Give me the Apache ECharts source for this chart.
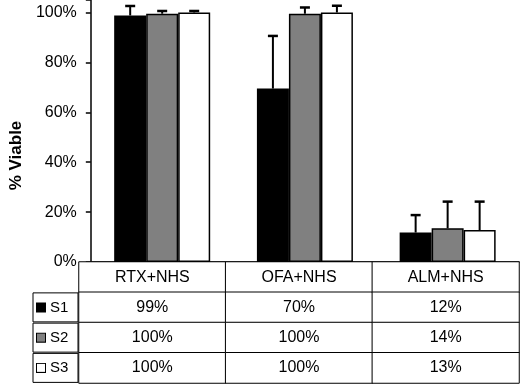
<!DOCTYPE html>
<html>
<head>
<meta charset="utf-8">
<script src="https://cdn.jsdelivr.net/npm/echarts@6/dist/echarts.min.js"></script>
<style>
  html, body { margin: 0; padding: 0; background: #fff; }
  #chart { width: 520px; height: 384px; }
</style>
</head>
<body>
<div id="chart"></div>
<script>
const categories = ["RTX+NHS", "OFA+NHS", "ALM+NHS"];
const seriesNames = ["S1", "S2", "S3"];
const s1Values = [98.8, 69.5, 11.8];
const s2Values = [99.5, 99.5, 13.5];
const s3Values = [100, 100, 12.8];
const s1Errors = [3.8, 21.1, 7];
const s2Errors = [1.1, 2.5, 10.7];
const s3Errors = [0.6, 2.7, 11.4];
const yTicks = [0, 20, 40, 60, 80, 100];

const fills = ["#000000", "#808080", "#ffffff"];
const font = "'Liberation Sans', Arial, sans-serif";
const barWidth = 32;
const allValues = [s1Values, s2Values, s3Values];
const allErrors = [s1Errors, s2Errors, s3Errors];

const chart = echarts.init(document.getElementById("chart"));

// error bar (upper whisker only), shifted to sit on its own bar
function errorSeries(idx) {
  return {
    type: "custom",
    xAxisIndex: 0,
    yAxisIndex: 0,
    z: 5,
    silent: true,
    data: allValues[idx].map((v, i) => [i, v, allErrors[idx][i]]),
    renderItem: (params, api) => {
      const base = api.coord([api.value(0), api.value(1)]);
      const top = api.coord([api.value(0), api.value(1) + api.value(2)]);
      const x = base[0] + (idx - 1) * barWidth;
      return {
        type: "group",
        children: [
          { type: "line", shape: { x1: x, y1: base[1], x2: x, y2: top[1] }, style: { stroke: "#000", lineWidth: 2 } },
          { type: "line", shape: { x1: x - 5, y1: top[1], x2: x + 5, y2: top[1] }, style: { stroke: "#000", lineWidth: 2.5 } },
        ],
      };
    },
  };
}

// table cells: row 0 is the header, rows 1..3 are the series
const tableData = [];
categories.forEach((c, ci) => {
  tableData.push([ci, 0, ci]);
  allValues.forEach((vals, si) => tableData.push([ci, si + 1, vals[ci]]));
});

const markerRich = {};
fills.forEach((f, i) => {
  markerRich["m" + i] = { width: 8, height: 8, backgroundColor: f, borderColor: "#000", borderWidth: 1, verticalAlign: "middle" };
});
markerRich.t = { fontSize: 15, fontFamily: font, color: "#000", padding: [0, 0, 0, 5], lineHeight: 29, verticalAlign: "middle" };

const option = {
  animation: false,
  grid: [
    { left: 79, right: 1, top: 0, height: 262 },
    { left: 79, right: 1, top: 262, height: 121 },
  ],
  xAxis: [
    {
      type: "category",
      gridIndex: 0,
      data: categories,
      axisLine: { lineStyle: { color: "#000", width: 1.5 } },
      axisTick: { show: false },
      axisLabel: { show: false },
    },
    {
      type: "category",
      gridIndex: 1,
      data: categories,
      show: false,
    },
  ],
  yAxis: [
    {
      type: "value",
      gridIndex: 0,
      min: 0,
      max: 105,
      interval: 20,
      name: "% Viable",
      nameLocation: "middle",
      nameGap: 63,
      nameTextStyle: { fontSize: 17, fontWeight: "bold", fontFamily: font, color: "#000", padding: [0, 49, 0, 0] },
      axisLine: { show: true, lineStyle: { color: "#000", width: 1.5 } },
      axisTick: { show: true, length: 5, lineStyle: { color: "#000", width: 1.5 } },
      axisLabel: {
        margin: 14,
        fontSize: 16,
        fontFamily: font,
        color: "#000",
        formatter: (v) => (yTicks.includes(v) ? v + "%" : ""),
      },
      splitLine: { show: false },
    },
    {
      type: "category",
      gridIndex: 1,
      inverse: true,
      data: [""].concat(seriesNames),
      axisLine: { show: false },
      axisTick: { show: false },
      axisLabel: {
        align: "left",
        verticalAlign: "middle",
        margin: 46,
        width: 41,
        lineHeight: 29,
        padding: [0, 0, 0, 4],
        borderColor: "#000",
        borderWidth: 1,
        formatter: (v, i) => (v ? "{m" + (i - 1) + "|}{t|" + v + "}" : ""),
        rich: markerRich,
      },
    },
  ],
  series: [
    ...allValues.map((vals, i) => ({
      name: seriesNames[i],
      type: "bar",
      xAxisIndex: 0,
      yAxisIndex: 0,
      barWidth: barWidth,
      barGap: "0%",
      data: vals,
      itemStyle: { color: fills[i], borderColor: "#000", borderWidth: 1.5 },
      silent: true,
    })),
    ...allValues.map((v, i) => errorSeries(i)),
    {
      type: "heatmap",
      xAxisIndex: 1,
      yAxisIndex: 1,
      data: tableData,
      silent: true,
      itemStyle: { color: "#fff", borderColor: "#000", borderWidth: 1 },
      label: {
        show: true,
        fontSize: 16,
        fontFamily: font,
        color: "#000",
        formatter: (p) => (p.data[1] === 0 ? categories[p.data[0]] : Math.round(p.data[2]) + "%"),
      },
    },
  ],
};

chart.setOption(option);
</script>
</body>
</html>
